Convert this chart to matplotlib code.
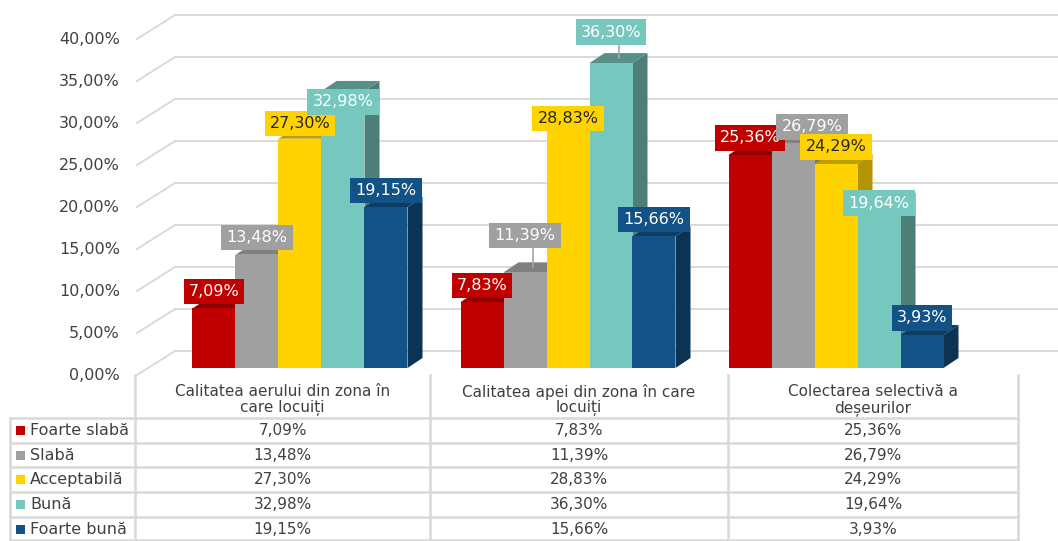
import matplotlib
matplotlib.use("Agg")
import matplotlib.pyplot as plt

categories = ["Calitatea aerului din zona în\ncare locuiți",
              "Calitatea apei din zona în care\nlocuiți",
              "Colectarea selectivă a\ndeșeurilor"]
series = ["Foarte slabă", "Slabă", "Acceptabilă", "Bună", "Foarte bună"]
values = [
    [7.09, 7.83, 25.36],
    [13.48, 11.39, 26.79],
    [27.30, 28.83, 24.29],
    [32.98, 36.30, 19.64],
    [19.15, 15.66, 3.93],
]
yticks = [0, 5, 10, 15, 20, 25, 30, 35, 40]

front = ["#C00000", "#A0A0A0", "#FFD300", "#76C8BF", "#135286"]
side = ["#850000", "#777777", "#B39500", "#4D7F79", "#0C3452"]
top = ["#8E0000", "#808080", "#BF9F00", "#579089", "#0E3C62"]
txtcol = ["white", "white", "#262626", "white", "white"]

W, H = 1058, 541
fig = plt.figure(figsize=(W / 100, H / 100), dpi=100)

# overlay axes in pixel coords for the data table
tab = fig.add_axes([0, 0, 1, 1])
tab.set_xlim(0, W)
tab.set_ylim(H, 0)
tab.axis("off")

# bar axes: x = category index, y = percent
px0, pxs = 300, 268      # pixel of category 0, pixels per category
py0, pys = 368, 8.4      # pixel of 0 %, pixels per percent
ax = fig.add_axes([0, (H - 378) / H, 1, 378 / H])
ax.set_xlim(-px0 / pxs, (W - px0) / pxs)
ax.set_ylim(-(378 - py0) / pys, py0 / pys)
ax.axis("off")

def xd(px):
    return (px - px0) / pxs

grid = "#D9D9D9"
back_dy = 17 / pys
front_dy = -7 / pys
for t in yticks:
    ax.plot([xd(175), xd(W)], [t + back_dy, t + back_dy], color=grid, lw=1.4, zorder=0)
    ax.plot([xd(137), xd(175)], [t + front_dy, t + back_dy], color=grid, lw=1.4, zorder=0)
    ax.text(xd(120), t + front_dy, f"{t:.2f}%".replace(".", ","), ha="right", va="center",
            fontsize=11.5, color="#404040")

w = 43 / pxs
dx = 15 / pxs
dy = 10 / pys

# label tweaks (group, series): (x shift px, height above top px, leader line)
label_adj = {(0, 2): (0, 15, False), (0, 3): (0, -11, False), (1, 1): (0, 37, True),
             (1, 2): (0, 7, False), (1, 3): (0, 31, True), (2, 1): (19, 16, False),
             (2, 3): (0, 0, False)}

for g in range(len(categories)):
    for i in range(len(series)):
        v = values[i][g]
        x = g + (i - 2) * w
        L, R = x - w / 2, x + w / 2
        z = 2 + i * 3
        ax.fill([R, R + dx, R + dx, R], [0, dy, v + dy, v], color=side[i], lw=0, zorder=z)
        ax.fill([L, R, R + dx, L + dx], [v, v, v + dy, v + dy], color=top[i], lw=0, zorder=z + 1)
        ax.bar(x, v, width=w, color=front[i], lw=0, zorder=z + 2)
        sx, up, lead = label_adj.get((g, i), (0, 17, False))
        ly = v + up / pys
        if lead:
            ax.plot([x + dx / 2, x + dx / 2], [v + dy / 2, ly], color="#A6A6A6", lw=1.2, zorder=90)
        ax.text(x + sx / pxs, ly, f"{v:.2f}%".replace(".", ","), ha="center", va="center",
                fontsize=11.5, color=txtcol[i], zorder=100,
                bbox=dict(boxstyle="square,pad=0.32", fc=front[i], ec="none"))

# data table
cols = [135, 430, 728, 1018]
rows = [418, 443, 467, 492, 517, 541]
lc = "#D9D9D9"
for cx in cols:
    tab.plot([cx, cx], [375, H], color=lc, lw=1.8)
tab.plot([10, 10], [rows[0], H], color=lc, lw=1.8)
for ry in rows[:-1]:
    tab.plot([10, cols[-1]], [ry, ry], color=lc, lw=1.8)
tab.plot([10, cols[-1]], [H - 1, H - 1], color=lc, lw=1.8)

for g, cat in enumerate(categories):
    cx = (cols[g] + cols[g + 1]) / 2
    tab.text(cx, 400, cat, ha="center", va="center", fontsize=11, color="#404040",
             linespacing=1.05)
    for i in range(len(series)):
        cy = (rows[i] + rows[i + 1]) / 2
        tab.text(cx, cy, f"{values[i][g]:.2f}%".replace(".", ","), ha="center",
                 va="center", fontsize=11, color="#404040")

for i, s in enumerate(series):
    cy = (rows[i] + rows[i + 1]) / 2
    tab.add_patch(plt.Rectangle((16, cy - 4.5), 9, 9, color=front[i], lw=0))
    tab.text(30, cy, s, ha="left", va="center", fontsize=11.5, color="#404040")

fig.savefig("out.png", dpi=100)
